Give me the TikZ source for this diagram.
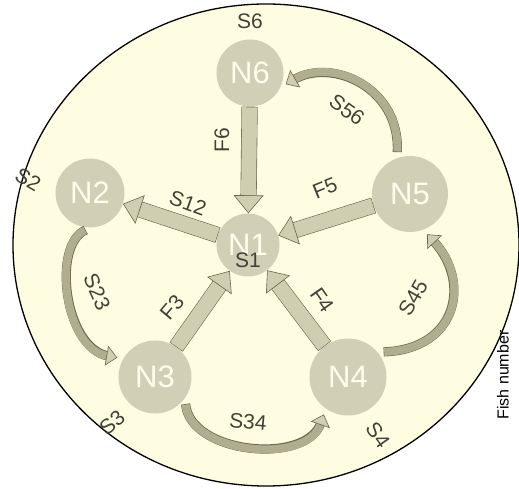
\documentclass[tikz,border=0pt]{standalone}
\usepackage{fontspec}
\setmainfont{Liberation Sans}
\usepackage{xcolor}
\usepackage{tikz}
\usetikzlibrary{arrows.meta,calc}
\definecolor{pond}{RGB}{255,253,225}
\definecolor{placecol}{RGB}{209,207,181}
\definecolor{placetext}{RGB}{255,253,236}
\definecolor{flowfill}{RGB}{208,206,176}
\definecolor{flowedge}{RGB}{105,105,80}
\definecolor{swimfill}{RGB}{176,174,142}
\definecolor{labeltext}{RGB}{65,65,55}
\tikzstyle{place} = [circle, fill=placecol, text=placetext, inner sep=0pt, font=\fontsize{31}{31}\selectfont]
\tikzstyle{lab} = [text=labeltext, inner sep=0pt, font=\fontsize{21}{21}\selectfont]
\tikzstyle{flow} = [line width=15pt, draw=flowfill, shorten <=0.6pt, -{Triangle[length=18pt,width=30pt,fill=flowfill,color=flowedge,line width=0.6pt]}, preaction={draw=flowedge, line width=16.2pt, arrows=-, shorten <=0pt, shorten >=16pt}]
\tikzstyle{swim} = [line width=8pt, draw=swimfill, shorten <=6.6pt, shorten >=6pt, -{Triangle[length=11pt,width=20pt,fill=flowfill,color=flowedge,line width=0.6pt]}, preaction={draw=flowedge, line width=9.2pt, arrows=-, shorten <=6pt, shorten >=15pt}]

\begin{document}
\begin{tikzpicture}[x=1pt, y=1pt]
    \useasboundingbox (-248,-244) rectangle (271,245);
    \draw[line width=1.3pt, fill=pond] (18,0) ellipse [x radius=253, y radius=241];
    % places
    \node[place, minimum size=63pt] (N1) at (0,0) {N1};
    \node[place, minimum size=67pt] (N6) at (2,172) {N6};
    \node[place, minimum size=69pt] (N2) at (-158,52) {N2};
    \node[place, minimum size=76pt] (N5) at (162,51) {N5};
    \node[place, minimum size=73pt] (N3) at (-93,-132) {N3};
    \node[place, minimum size=77pt] (N4) at (100,-132) {N4};
    % flows to the centre
    \draw[flow] (N6) -- (N1); \draw[flow] (N1) -- (N2);
    \draw[flow] (N5) -- (N1); \draw[flow] (N3) -- (N1);
    \draw[flow] (N4) -- (N1);
    % moves round the ring
    \draw[swim] (N5.110) .. controls +(87:70) and +(30:60) .. (N6.-25);
    \draw[swim] (N2.-88) .. controls +(203:43) and +(170:60) .. (N3.150);
    \draw[swim] (N3.-35) .. controls +(-85:56) and +(251:60) .. (N4.235);
    \draw[swim] (N4.40) .. controls +(2:80) and +(-47:71) .. (N5.-70);
    % labels
    \node[lab] (lS6) at (2,224) {S6};
    \node[lab, rotate=-30] (lS2) at (-220,65) {S2};
    \node[lab, rotate=40] (lS3) at (-136,-178) {S3};
    \node[lab, rotate=-55] (lS4) at (130,-190) {S4};
    \node[lab] (lS1) at (0,-15) {S1};
    \node[lab, rotate=-20] (lS12) at (-60,42) {S12};
    \node[lab, rotate=22] (lF5) at (77,57) {F5};
    \node[lab, rotate=90] (lF6) at (-26,105) {F6};
    \node[lab, rotate=-36] (lS56) at (99,135) {S56};
    \node[lab, rotate=-66] (lS23) at (-151,-47) {S23};
    \node[lab, rotate=50] (lF3) at (-76,-62) {F3};
    \node[lab, rotate=-55] (lF4) at (74,-55) {F4};
    \node[lab, rotate=60] (lS45) at (165,-53) {S45};
    \node[lab, rotate=-5] (lS34) at (0,-177) {S34};
    \node[lab, text=black, rotate=90, font=\fontsize{16}{16}\selectfont] (fish) at (255,-130) {Fish number};
\end{tikzpicture}
\end{document}
